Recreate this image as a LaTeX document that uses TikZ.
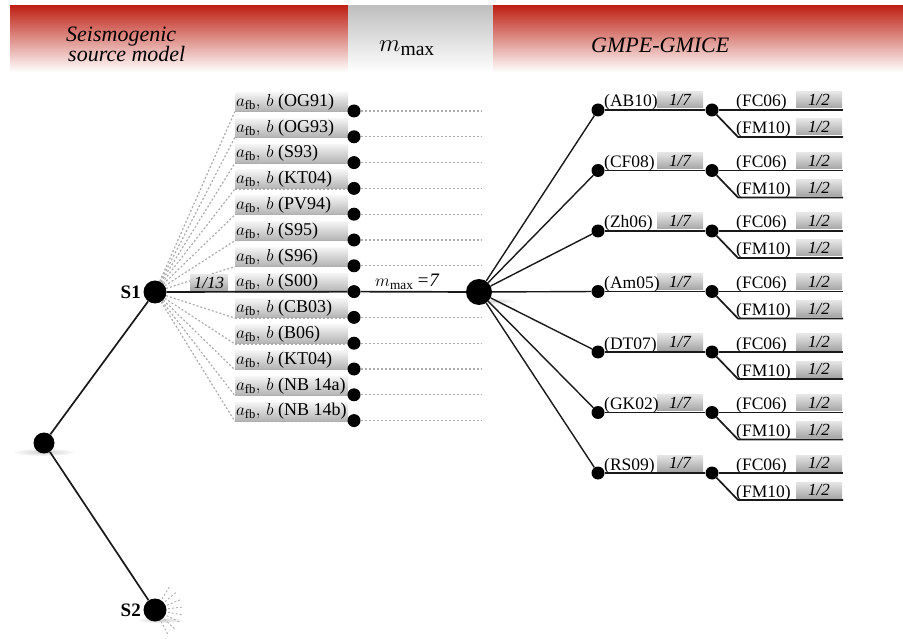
\documentclass[tikz,border=0pt]{standalone}
\usepackage{fontspec}
\setmainfont{Liberation Serif}
\usetikzlibrary{calc}
\definecolor{hdrred}{RGB}{190,34,22}
\begin{document}
\begin{tikzpicture}[x=1pt,y=-1pt,
  dotn/.style={circle,fill=black,draw=none,inner sep=0pt,minimum size=#1},
  conn/.style={line width=1.7pt,black!90},
  gdash/.style={gray!65,line width=1.2pt,dash pattern=on 2pt off 2pt},
  lblbox/.style={inner sep=1pt,minimum height=19pt,top color=gray!8,bottom color=gray!60,font=\fontsize{18}{18}\selectfont},
  wbox/.style={inner sep=0pt,minimum width=46pt,minimum height=16pt,top color=gray!20,bottom color=gray!70,font=\fontsize{17}{18}\selectfont\itshape},
  ttl/.style={font=\fontsize{17.5}{19}\selectfont,inner sep=0pt},
  hdr/.style={font=\fontsize{22}{24}\selectfont\itshape,inner sep=0pt}]
\useasboundingbox (0,0) rectangle (903,639);
% header
\shade[top color=hdrred,middle color=hdrred!55,bottom color=white] (10,6) rectangle (348,72);
\shade[top color=gray!50,bottom color=white] (348,6) rectangle (493,72);
\shade[top color=hdrred,middle color=hdrred!55,bottom color=white] (493,6) rectangle (903,72);
\node[hdr,anchor=base west] (h1) at (66,42) {Seismogenic};
\node[hdr,anchor=base west] (h2) at (68,62) {source model};
\node[anchor=base,inner sep=0pt,font=\fontsize{28}{30}\selectfont] (h3) at (407,52) {$m_{\max}$};
\node[anchor=base west,inner sep=0pt,font=\fontsize{22}{24}\selectfont\itshape] (h4) at (591,53) {GMPE-GMICE};
% soft shadows
\shade[inner color=gray!40,outer color=white] (44,452) ellipse (32 and 4);
\shade[inner color=gray!40,outer color=white] (160,620) ellipse (24 and 3);
\shade[inner color=gray!35,outer color=white] (495,301) ellipse (22 and 3);
% main nodes
\node[dotn=21pt] (root) at (44,443) {};
\node[dotn=23pt] (S1) at (155,292) {};
\node[dotn=23pt] (S2) at (155,610) {};
\node[dotn=26pt] (M) at (479,292) {};
\node[font=\fontsize{19}{20}\selectfont\bfseries,anchor=east,inner sep=0pt] (S1l) at (141,292) {S1};
\node[font=\fontsize{19}{20}\selectfont\bfseries,anchor=east,inner sep=0pt] (S2l) at (141,610) {S2};
\draw[conn] (root) -- (S1);
\draw[conn] (root) -- (S2);
% S2 stubs
\foreach \a in {62,44,26,10,-6,-22,-40,-58}{
  \coordinate (sa\a) at ($(S2)+(\a:13)$);
  \coordinate (sb\a) at ($(S2)+(\a:27)$);
  \draw[gdash,line width=0.9pt] (sa\a) -- (sb\a);
}
% m_max branches
\foreach \n [count=\k from 0] in {OG91,OG93,S93,KT04,PV94,S95,S96,S00,CB03,B06,KT04,NB 14a,NB 14b}{
  \pgfmathsetmacro\cy{102+25.8*\k}
  \node[lblbox] (b\k) at (291.5,\cy) {\makebox[111pt][l]{$a_{\mathrm{fb}},\,b$ (\n)}};
  \draw[gdash] (b\k.south west) -- (b\k.south east);
  \node[dotn=13pt] (d\k) at (354,\cy+9) {};
  \ifnum\k=7\relax\else
    \coordinate (e\k) at (482,\cy+9);
    \draw[gdash] (d\k) -- (e\k);
    \draw[gdash] (S1) -- (b\k.south west);
  \fi
}
\draw[conn] (S1) -- (d7);
\draw[conn] (d7) -- (M);
\node[wbox,minimum width=38pt] (p13) at (209,282.5) {1/13};
\node[anchor=base west,inner sep=0pt,font=\fontsize{19}{20}\selectfont] (mm) at (375,287) {$m_{\max}$\,{\itshape =7}};
% GMPE branches
\foreach \g [count=\k from 0] in {AB10,CF08,Zh06,Am05,DT07,GK02,RS09}{
  \pgfmathsetmacro\gy{110+60.5*\k}
  \node[dotn=13pt] (g\k) at (598,\gy) {};
  \node[dotn=13pt] (h\k) at (712,\gy) {};
  \coordinate (fc\k) at (843,\gy);
  \coordinate (fk\k) at (738,\gy+27);
  \coordinate (fm\k) at (843,\gy+27);
  \node[wbox] (w\k) at (680,\gy-10) {1/7};
  \node[wbox] (x\k) at (819,\gy-10) {1/2};
  \node[wbox] (y\k) at (819,\gy+17) {1/2};
  \node[ttl,anchor=base west] (n\k) at (604,\gy-3) {(\g)};
  \node[ttl,anchor=base west] (fa\k) at (736,\gy-3) {(FC06)};
  \node[ttl,anchor=base west] (fb\k) at (736,\gy+24) {(FM10)};
  \draw[conn,line width=1.4pt] (M) -- (g\k);
  \draw[conn] (g\k) -- (h\k);
  \draw[conn] (h\k) -- (fc\k);
  \draw[conn] (h\k) -- (fk\k) -- (fm\k);
}
\end{tikzpicture}
\end{document}
